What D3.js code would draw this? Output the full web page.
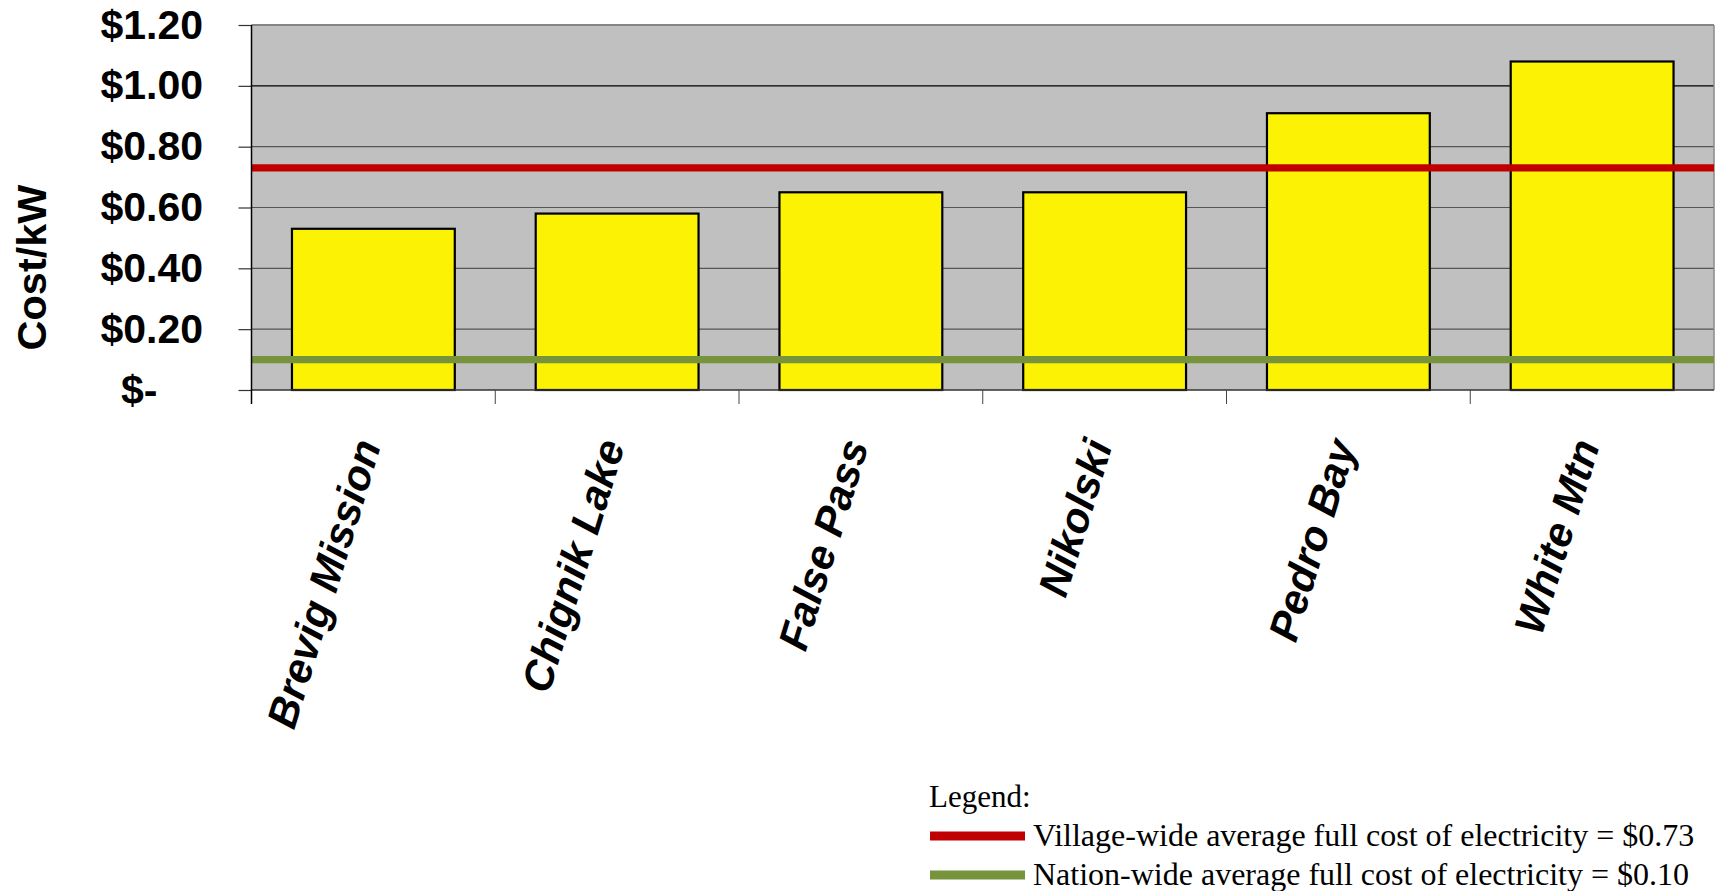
<!DOCTYPE html>
<html>
<head>
<meta charset="utf-8">
<script src="https://cdn.jsdelivr.net/npm/d3@7"></script>
<style>
  html, body { margin: 0; padding: 0; background: #fff; }
  svg { display: block; }
</style>
</head>
<body>
<svg id="chart" width="1715" height="891"></svg>
<script>
// Full cost of electricity per kW, by village
const villages = ["Brevig Mission", "Chignik Lake", "False Pass", "Nikolski", "Pedro Bay", "White Mtn"];
const costPerKW = [0.53, 0.58, 0.65, 0.65, 0.91, 1.08];
const yTicks = [0, 0.2, 0.4, 0.6, 0.8, 1.0, 1.2];
const averageNames = [
  "Village-wide average full cost of electricity",
  "Nation-wide average full cost of electricity"
];
const averageValues = [0.73, 0.10];
const yTitle = "Cost/kW";
const legendTitle = "Legend:";

// Styling
const averageColors = ["#C00000", "#77933C"];
const sans = "'Liberation Sans', Arial, Helvetica, sans-serif";
const serif = "'Liberation Serif', 'Times New Roman', serif";
const plot = { left: 251.5, right: 1714, top: 25, bottom: 390 };

const svg = d3.select("#chart");
const money = d3.format("$.2f");

const x = d3.scaleBand().domain(villages).range([plot.left, plot.right]);
const xBar = d3.scaleBand().domain(villages).range([plot.left, plot.right])
  .paddingInner(0.332).paddingOuter(0.166);
const y = d3.scaleLinear().domain([0, 1.2]).range([plot.bottom, plot.top]);

// Plot area
svg.append("rect")
  .attr("x", plot.left).attr("y", plot.top)
  .attr("width", plot.right - plot.left).attr("height", plot.bottom - plot.top)
  .attr("fill", "#C0C0C0");

// Horizontal gridlines
svg.append("g").selectAll("line")
  .data(yTicks.filter(t => t > 0 && t < 1.2))
  .join("line")
  .attr("x1", plot.left).attr("x2", plot.right)
  .attr("y1", d => y(d)).attr("y2", d => y(d))
  .attr("stroke", d => d === 1.0 ? "#000" : "#555")
  .attr("stroke-width", 1.2);

// Plot frame (top and right)
svg.append("line")
  .attr("x1", plot.left).attr("x2", plot.right)
  .attr("y1", y(1.2)).attr("y2", y(1.2))
  .attr("stroke", "#858585").attr("stroke-width", 2);
svg.append("line")
  .attr("x1", plot.right).attr("x2", plot.right)
  .attr("y1", plot.top).attr("y2", plot.bottom)
  .attr("stroke", "#8a8a8a").attr("stroke-width", 1.5);

// Bars
const data = villages.map((v, i) => ({ village: v, cost: costPerKW[i] }));
svg.append("g").selectAll("rect")
  .data(data)
  .join("rect")
  .attr("x", d => xBar(d.village))
  .attr("y", d => y(d.cost))
  .attr("width", xBar.bandwidth())
  .attr("height", d => y(0) - y(d.cost))
  .attr("fill", "#FCF204")
  .attr("stroke", "#000")
  .attr("stroke-width", 2.2);

// Average-cost reference lines
const averages = averageNames.map((n, i) => ({ name: n, value: averageValues[i], color: averageColors[i] }));
svg.append("g").selectAll("line")
  .data(averages)
  .join("line")
  .attr("x1", plot.left).attr("x2", plot.right)
  .attr("y1", d => y(d.value)).attr("y2", d => y(d.value))
  .attr("stroke", d => d.color)
  .attr("stroke-width", 7.3);

// X axis: baseline, category divider ticks, rotated labels
svg.append("line")
  .attr("x1", plot.left).attr("x2", plot.right)
  .attr("y1", y(0)).attr("y2", y(0))
  .attr("stroke", "#333").attr("stroke-width", 1.5);
svg.append("g").selectAll("line")
  .data(villages.slice(1))
  .join("line")
  .attr("x1", d => x(d)).attr("x2", d => x(d))
  .attr("y1", y(0)).attr("y2", y(0) + 14)
  .attr("stroke", "#444").attr("stroke-width", 1);
svg.append("g").selectAll("text")
  .data(villages)
  .join("text")
  .attr("transform", d => `translate(${x(d) + x.bandwidth() / 2 + 8},${y(0) + 55}) rotate(-73)`)
  .attr("text-anchor", "end")
  .attr("font-family", sans)
  .attr("font-weight", "bold")
  .attr("font-style", "italic")
  .attr("font-size", 42)
  .attr("fill", "#000")
  .text(d => d);

// Y axis
const yAxis = d3.axisLeft(y)
  .tickValues(yTicks)
  .tickSize(13)
  .tickPadding(35.5)
  .tickFormat(d => d === 0 ? "$-" : money(d));
const yg = svg.append("g")
  .attr("transform", `translate(${plot.left},0)`)
  .call(yAxis);
yg.select(".domain").remove();
yg.selectAll(".tick line").attr("stroke", "#333").attr("stroke-width", 1.2);
yg.selectAll(".tick text")
  .attr("font-family", sans)
  .attr("font-weight", "bold")
  .attr("font-size", 41)
  .attr("fill", "#000")
  .attr("dx", d => d === 0 ? "-1.112em" : 0);
svg.append("line")
  .attr("x1", plot.left).attr("x2", plot.left)
  .attr("y1", plot.top).attr("y2", y(0) + 14)
  .attr("stroke", "#000").attr("stroke-width", 1.5);

svg.append("text")
  .attr("transform", `translate(46,${(plot.top + plot.bottom) / 2 + 60}) rotate(-90)`)
  .attr("text-anchor", "middle")
  .attr("font-family", sans)
  .attr("font-weight", "bold")
  .attr("font-size", 41.5)
  .attr("fill", "#000")
  .text(yTitle);

// Legend
const legend = svg.append("g");
legend.append("text")
  .attr("x", 929).attr("y", 807)
  .attr("font-family", serif)
  .attr("font-size", 31)
  .attr("fill", "#000")
  .text(legendTitle);
const rows = legend.selectAll("g.row")
  .data(averages)
  .join("g")
  .attr("class", "row")
  .attr("transform", (d, i) => `translate(0,${i * 39})`);
rows.append("line")
  .attr("x1", 930).attr("x2", 1025)
  .attr("y1", 836).attr("y2", 836)
  .attr("stroke", d => d.color)
  .attr("stroke-width", 9);
rows.append("text")
  .attr("x", 1033).attr("y", 846)
  .attr("font-family", serif)
  .attr("font-size", 32)
  .attr("fill", "#000")
  .text(d => `${d.name} = ${money(d.value)}`);
</script>
</body>
</html>
